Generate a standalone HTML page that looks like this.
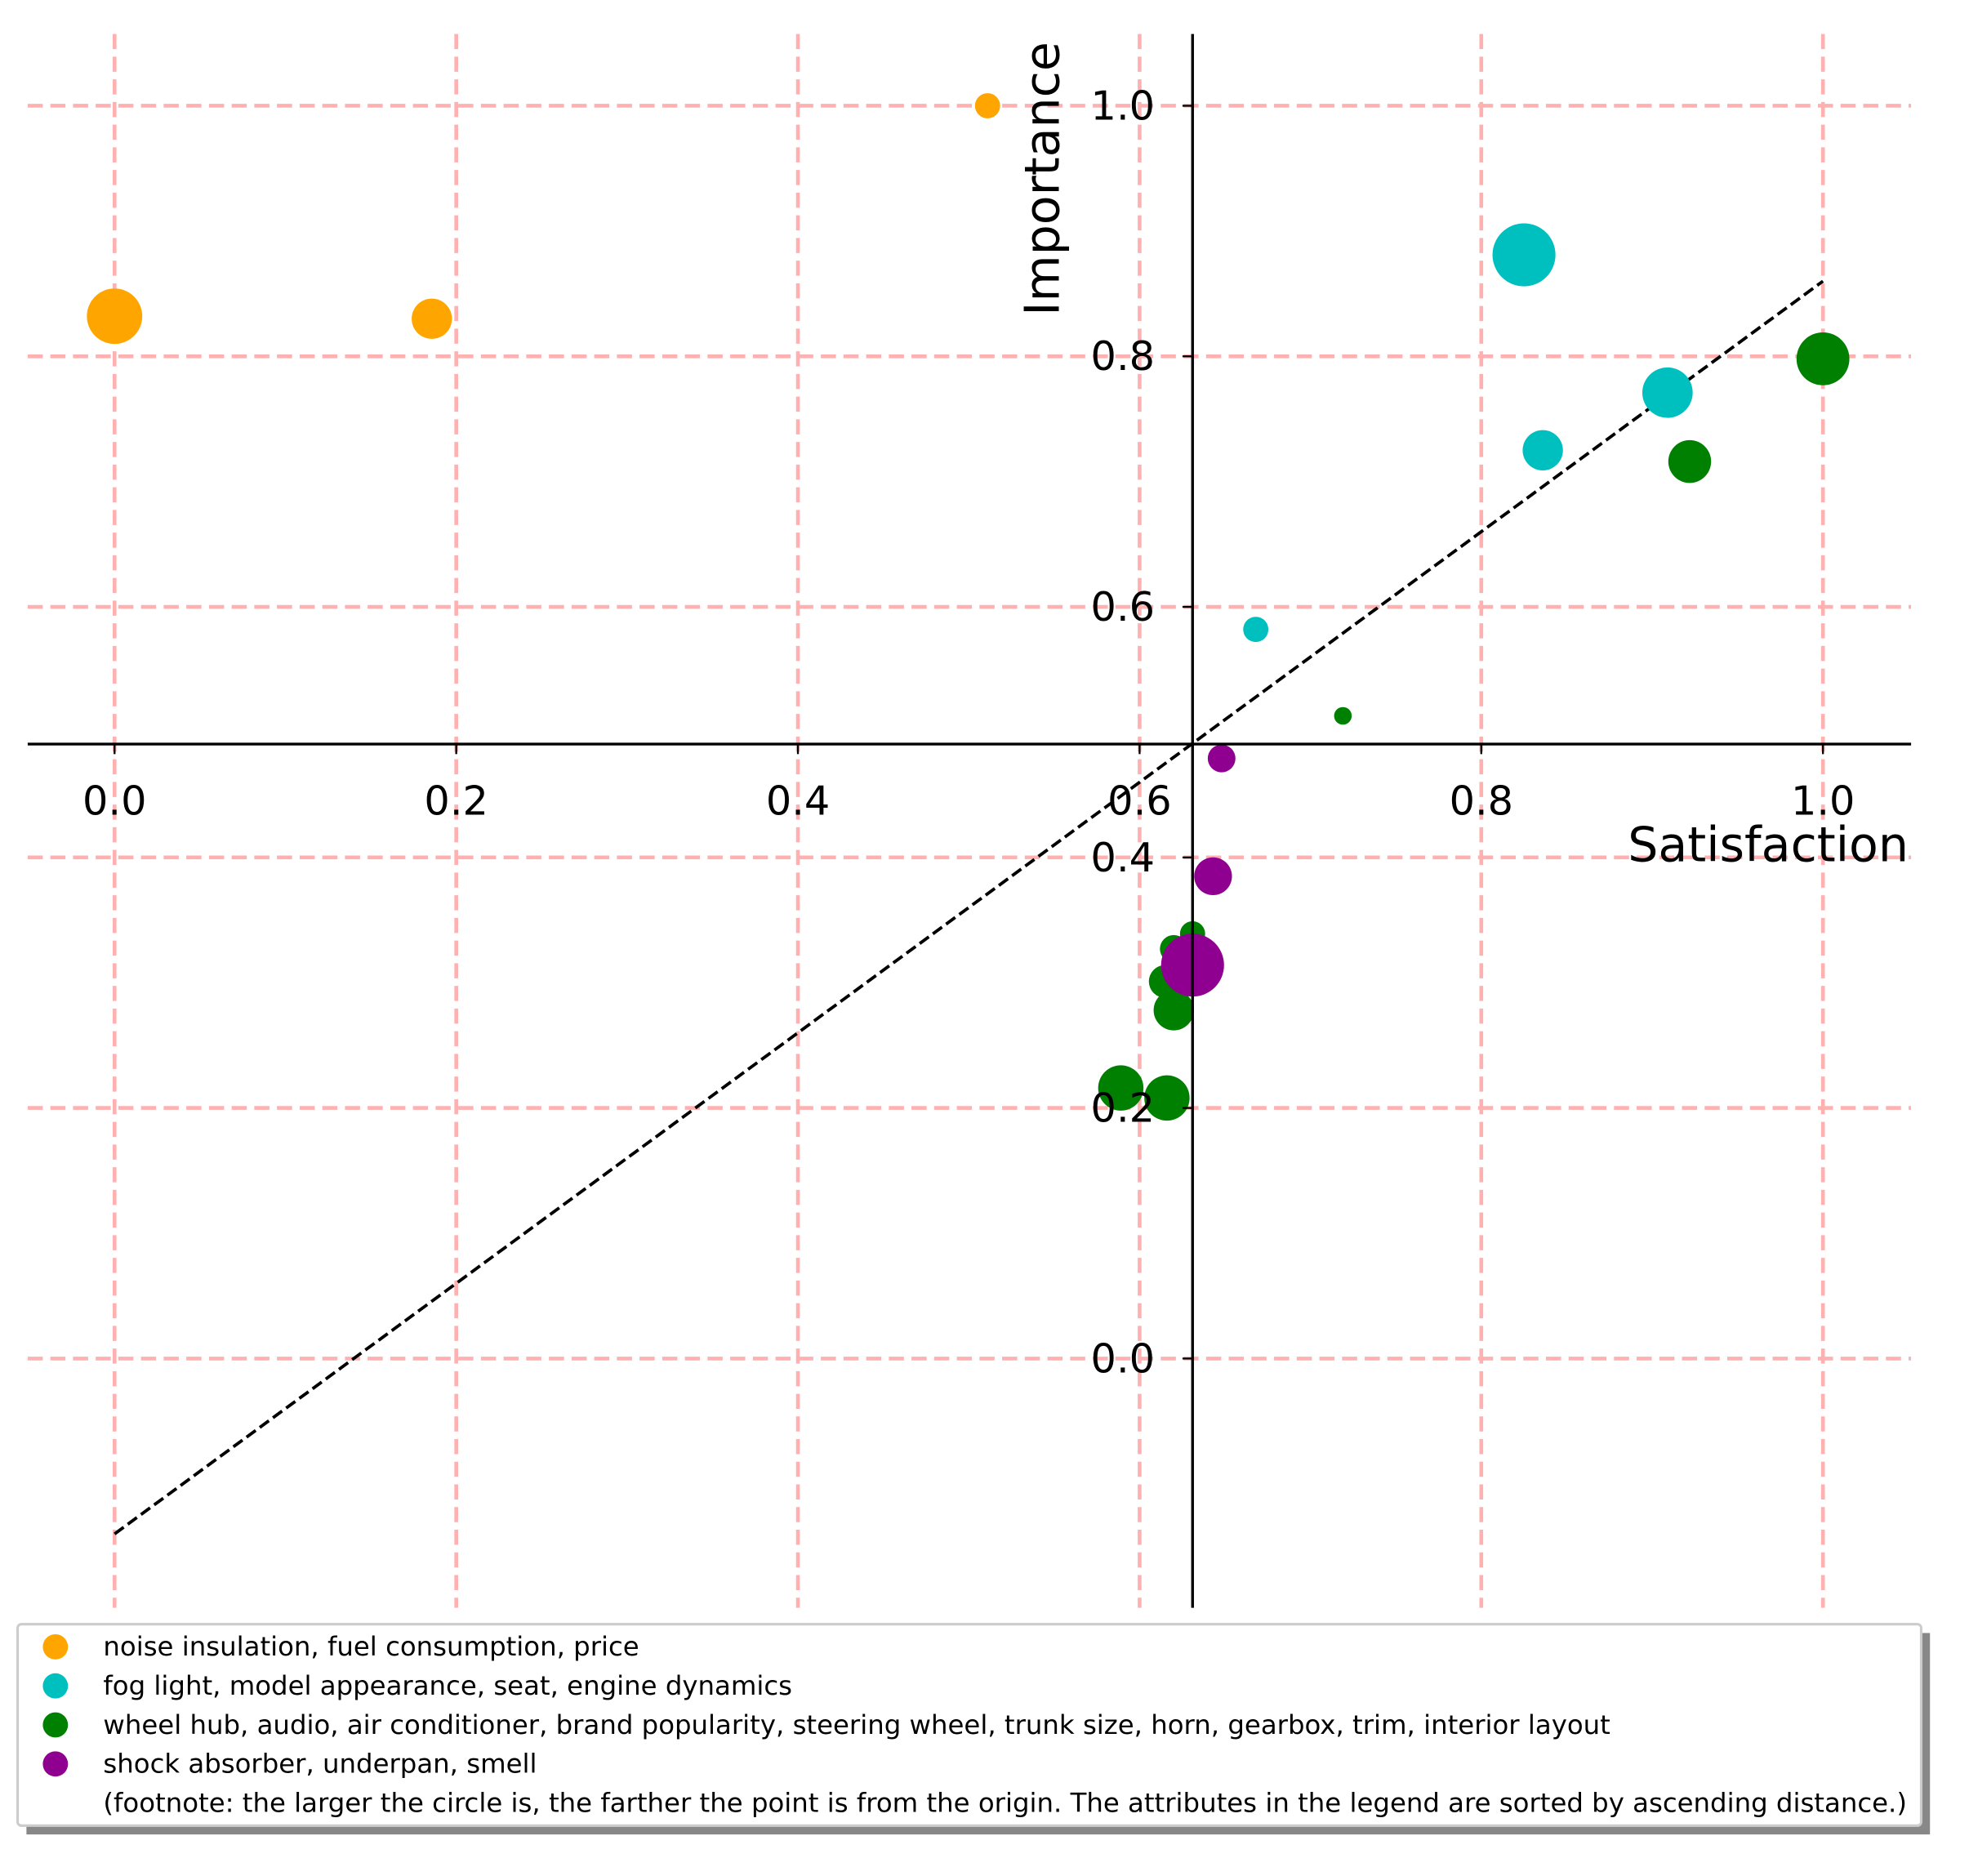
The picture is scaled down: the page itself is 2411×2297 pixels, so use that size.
<!DOCTYPE html>
<html><head><meta charset="utf-8"><style>
html,body{margin:0;padding:0;background:#fff}
svg{display:block;font-family:"DejaVu Sans","Liberation Sans",sans-serif}
</style></head><body>
<svg id="chart" width="2411" height="2297" viewBox="0 0 1564 1490" preserveAspectRatio="none" xmlns="http://www.w3.org/2000/svg">
<g id="grid"></g>
<g id="diag"></g>
<g id="pts"></g>
<g id="axes"></g>
<g id="legend"></g>
</svg>
<script>
const xTicks=[0,0.2,0.4,0.6,0.8,1.0];
const yTicks=[0,0.2,0.4,0.6,0.8,1.0];
const orangeX=[0,0.1857,0.511];
const orangeY=[0.832,0.830,1.0];
const orangeR=[22,16,10];
const cyanX=[0.825,0.909,0.836,0.668];
const cyanY=[0.881,0.771,0.725,0.582];
const cyanR=[25,20,16,10];
const greenX=[1.0,0.922,0.719,0.631,0.620,0.615,0.620,0.589,0.616];
const greenY=[0.798,0.716,0.513,0.339,0.327,0.301,0.278,0.216,0.208];
const greenR=[21,17,7,10,11,13,16,18,18];
const purpleX=[0.648,0.643,0.631];
const purpleY=[0.479,0.385,0.314];
const purpleR=[11,15,25];
const originX=0.631, originY=0.4905;
const diagX=[0,1];
const diagY=[-0.14,0.86];
const legendLabels=["noise insulation, fuel consumption, price","fog light, model appearance, seat, engine dynamics","wheel hub, audio, air conditioner, brand popularity, steering wheel, trunk size, horn, gearbox, trim, interior layout","shock absorber, underpan, smell"];
const footnote="(footnote: the larger the circle is, the farther the point is from the origin. The attributes in the legend are sorted by ascending distance.)";

const NS="http://www.w3.org/2000/svg";
const X0=22,X1=1518,Y0=27,Y1=1277;
const sx=v=>91+v*1357;
const sy=v=>1079-v*995;
function mk(tag,attrs,parent){const e=document.createElementNS(NS,tag);for(const k in attrs)e.setAttribute(k,attrs[k]);parent.appendChild(e);return e;}
const grid=document.getElementById('grid');
xTicks.forEach(t=>{const l=mk('line',{x1:sx(t),x2:sx(t),y1:Y0,y2:Y1,stroke:'#ffb0b0','stroke-width':3,'stroke-dasharray':'12,6'},grid);

});
yTicks.forEach(t=>{const l=mk('line',{x1:X0,x2:X1,y1:sy(t),y2:sy(t),stroke:'#ffb0b0','stroke-width':3,'stroke-dasharray':'12,6'},grid);

});
const dg=document.getElementById('diag');
const dl=mk('line',{x1:sx(diagX[0]),y1:sy(diagY[0]),x2:sx(diagX[1]),y2:sy(diagY[1]),stroke:'#000','stroke-width':2.5,'stroke-dasharray':'9,4'},dg);


const pts=document.getElementById('pts');
const series=[[orangeX,orangeY,orangeR,'#ffa500','orange'],[cyanX,cyanY,cyanR,'#00bfbf','cyan'],[greenX,greenY,greenR,'#008000','green'],[purpleX,purpleY,purpleR,'#900090','purple']];
series.forEach(s=>{s[0].forEach((x,i)=>{const c=mk('circle',{cx:sx(x),cy:sy(s[1][i]),r:s[2][i],fill:s[3]},pts);

});});
const ax=document.getElementById('axes');
const ox=sx(originX), oy=sy(originY);
const xs=mk('line',{x1:X0,x2:X1,y1:oy,y2:oy,stroke:'#000','stroke-width':2.2},ax);


const ys=mk('line',{x1:ox,x2:ox,y1:Y0,y2:Y1,stroke:'#000','stroke-width':2.2},ax);


xTicks.forEach(t=>{mk('line',{x1:sx(t),x2:sx(t),y1:oy,y2:oy+8,stroke:'#000','stroke-width':1.5},ax);
const tx=mk('text',{x:sx(t),y:oy+56,'text-anchor':'middle','font-size':32},ax);tx.textContent=t.toFixed(1);

});
yTicks.forEach(t=>{mk('line',{x1:ox-8,x2:ox,y1:sy(t),y2:sy(t),stroke:'#000','stroke-width':1.5},ax);
const tx=mk('text',{x:ox-30,y:sy(t)+11,'text-anchor':'end','font-size':32},ax);tx.textContent=t.toFixed(1);

});
const xt=mk('text',{x:1516,y:684,'text-anchor':'end','font-size':38},ax);xt.textContent='Satisfaction';


const yt=mk('text',{x:0,y:0,'text-anchor':'middle','font-size':38,transform:'translate(841,142) rotate(-90)'},ax);yt.textContent='Importance';


const lg=document.getElementById('legend');
mk('rect',{x:21,y:1297,width:1512,height:160,fill:'#888'},lg);
const box=mk('rect',{x:14,y:1290,width:1512,height:160,fill:'#fff',stroke:'#ccc','stroke-width':2,rx:3},lg);


legendLabels.forEach((lab,i)=>{const y=1308+i*31;
mk('circle',{cx:44,cy:y,r:10,fill:series[i][3]},lg);
const t=mk('text',{x:82,y:y+7,'font-size':21},lg);t.textContent=lab;

});
const fn=mk('text',{x:82,y:1439,'font-size':21},lg);fn.textContent=footnote;


</script>
</body></html>
